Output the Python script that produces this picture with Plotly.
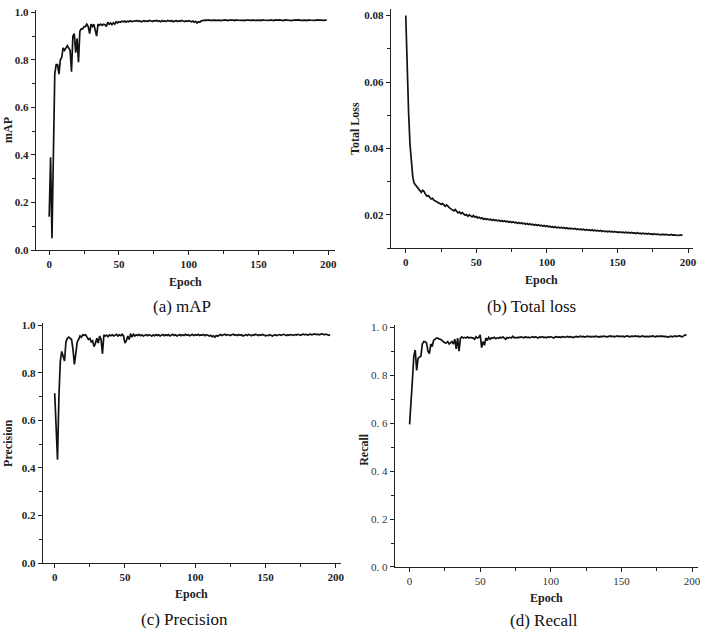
import plotly.graph_objects as go

# ---------------- data ----------------
map_vals = [
    0.14, 0.39, 0.05, 0.45, 0.74, 0.78, 0.78, 0.74, 0.80, 0.81,
    0.85, 0.84, 0.85, 0.86, 0.85, 0.84, 0.75, 0.90, 0.91, 0.83,
    0.89, 0.79, 0.92, 0.93, 0.93, 0.94, 0.94, 0.95, 0.94, 0.91,
    0.95, 0.94, 0.95, 0.93, 0.90, 0.95, 0.945, 0.95, 0.945, 0.95,
    0.948, 0.94, 0.958, 0.95, 0.955, 0.948, 0.956, 0.95, 0.96, 0.955,
    0.96, 0.958, 0.962, 0.96, 0.963, 0.958, 0.962, 0.96, 0.964, 0.961,
    0.962, 0.96, 0.963, 0.965, 0.962, 0.964, 0.96, 0.963, 0.965, 0.961,
    0.964, 0.962, 0.966, 0.963, 0.961, 0.965, 0.963, 0.966, 0.962, 0.964,
    0.96, 0.965, 0.962, 0.964, 0.961, 0.966, 0.963, 0.962, 0.965, 0.96,
    0.963, 0.965, 0.961, 0.964, 0.962, 0.966, 0.963, 0.961, 0.964, 0.962,
    0.965, 0.962, 0.96, 0.963, 0.958, 0.962, 0.955, 0.96, 0.958, 0.964,
    0.966, 0.965, 0.967, 0.966, 0.968, 0.966, 0.967, 0.965, 0.968, 0.967,
    0.966, 0.968, 0.967, 0.965, 0.967, 0.966, 0.968, 0.967, 0.965, 0.967,
    0.968, 0.966, 0.967, 0.965, 0.968, 0.967, 0.966, 0.968, 0.966, 0.967,
    0.965, 0.967, 0.968, 0.966, 0.967, 0.965, 0.968, 0.966, 0.967, 0.968,
    0.966, 0.967, 0.965, 0.968, 0.967, 0.966, 0.968, 0.967, 0.966, 0.968,
    0.967, 0.965, 0.968, 0.966, 0.967, 0.968, 0.966, 0.967, 0.965, 0.968,
    0.967, 0.966, 0.968, 0.967, 0.965, 0.967, 0.968, 0.966, 0.967, 0.968,
    0.966, 0.967, 0.968, 0.966, 0.967, 0.965, 0.968, 0.967, 0.966, 0.968,
    0.967, 0.966, 0.968, 0.967, 0.966, 0.968, 0.967, 0.966, 0.967, 0.967,
]

loss_vals = [
    0.080, 0.064, 0.051, 0.0413, 0.0354, 0.0313, 0.0295, 0.0290, 0.0282, 0.0278,
    0.0272, 0.0268, 0.0274, 0.0270, 0.0262, 0.0256, 0.0258, 0.0252, 0.0248, 0.0250,
    0.0244, 0.0242, 0.0240, 0.0237, 0.0236, 0.0232, 0.0234, 0.0229, 0.0226, 0.0230,
    0.0224, 0.0221, 0.0218, 0.0214, 0.0212, 0.0216, 0.0210, 0.0206, 0.0209, 0.0204,
    0.0207, 0.0202, 0.0199, 0.0201, 0.0196, 0.0200, 0.0197, 0.0194, 0.0198, 0.0193,
    0.0195, 0.0191, 0.0193, 0.0189, 0.0191, 0.0187, 0.0189, 0.0186, 0.0188, 0.0185,
    0.0187, 0.0184, 0.0186, 0.0183, 0.0185, 0.0182, 0.0184, 0.0181, 0.0183, 0.0180,
    0.0182, 0.0179, 0.0181, 0.0178, 0.0180, 0.0177, 0.0179, 0.0176, 0.0178, 0.0175,
    0.0177, 0.0174, 0.0176, 0.0173, 0.0175, 0.0172, 0.0174, 0.0171, 0.0173, 0.0170,
    0.0172, 0.0169, 0.0171, 0.0168, 0.0170, 0.0167, 0.0169, 0.0166, 0.0168, 0.0165,
    0.0167, 0.0164, 0.0166, 0.0163, 0.0165, 0.0162, 0.0164, 0.0161, 0.0163, 0.0161,
    0.0162, 0.0160, 0.0162, 0.0159, 0.0161, 0.0158, 0.0160, 0.0158, 0.0159, 0.0157,
    0.0159, 0.0156, 0.0158, 0.0156, 0.0157, 0.0155, 0.0157, 0.0154, 0.0156, 0.0154,
    0.0155, 0.0153, 0.0155, 0.0152, 0.0154, 0.0152, 0.0153, 0.0151, 0.0153, 0.0150,
    0.0152, 0.0150, 0.0151, 0.0149, 0.0151, 0.0149, 0.0150, 0.0148, 0.0150, 0.0148,
    0.0149, 0.0147, 0.0149, 0.0147, 0.0148, 0.0146, 0.0148, 0.0146, 0.0147, 0.0145,
    0.0147, 0.0145, 0.0146, 0.0144, 0.0146, 0.0144, 0.0145, 0.0143, 0.0145, 0.0143,
    0.0144, 0.0142, 0.0144, 0.0142, 0.0143, 0.0141, 0.0143, 0.0141, 0.0142, 0.0141,
    0.0142, 0.0140, 0.0142, 0.0140, 0.0141, 0.0140, 0.0141, 0.0139, 0.0141, 0.0139,
    0.0140, 0.0139, 0.0140, 0.0138, 0.0139, 0.0138, 0.0139,
]

precision_vals = [
    0.714, 0.58, 0.435, 0.70, 0.85, 0.89, 0.87, 0.85, 0.93, 0.945,
    0.95, 0.945, 0.94, 0.90, 0.835, 0.88, 0.93, 0.94, 0.955, 0.95,
    0.96, 0.958, 0.96, 0.95, 0.94, 0.945, 0.93, 0.935, 0.91, 0.925,
    0.945, 0.925, 0.955, 0.94, 0.88, 0.96, 0.955, 0.958, 0.952, 0.96,
    0.956, 0.96, 0.955, 0.958, 0.962, 0.955, 0.96, 0.956, 0.962, 0.955,
    0.925, 0.935, 0.955, 0.94, 0.965, 0.95, 0.962, 0.955, 0.96, 0.957,
    0.962, 0.956, 0.96, 0.955, 0.958, 0.96, 0.956, 0.96, 0.958, 0.955,
    0.959, 0.956, 0.961, 0.957, 0.96, 0.955, 0.958, 0.961, 0.956, 0.96,
    0.957, 0.961, 0.955, 0.959, 0.962, 0.957, 0.96, 0.955, 0.958, 0.961,
    0.956, 0.96, 0.957, 0.962, 0.958, 0.96, 0.956, 0.959, 0.961, 0.957,
    0.96, 0.958, 0.962, 0.957, 0.96, 0.959, 0.961, 0.956, 0.96, 0.958,
    0.955, 0.958, 0.952, 0.956, 0.95, 0.957, 0.954, 0.958, 0.961, 0.957,
    0.96, 0.962, 0.958, 0.961, 0.959, 0.957, 0.96, 0.962, 0.958, 0.96,
    0.957, 0.961, 0.958, 0.96, 0.955, 0.958, 0.96, 0.957, 0.961, 0.959,
    0.956, 0.96, 0.958, 0.962, 0.959, 0.957, 0.96, 0.958, 0.961, 0.959,
    0.956, 0.958, 0.957, 0.96, 0.958, 0.955, 0.958, 0.96, 0.957, 0.959,
    0.961, 0.958, 0.96, 0.962, 0.959, 0.957, 0.96, 0.958, 0.961, 0.96,
    0.958, 0.961, 0.959, 0.962, 0.96, 0.958, 0.961, 0.963, 0.96, 0.962,
    0.959, 0.961, 0.963, 0.96, 0.962, 0.964, 0.961, 0.963, 0.96, 0.962,
    0.964, 0.962, 0.96, 0.963, 0.961, 0.958, 0.96,
]

recall_vals = [
    0.595, 0.72, 0.78, 0.88, 0.905, 0.82, 0.87, 0.875, 0.88, 0.93,
    0.94, 0.94, 0.935, 0.90, 0.89, 0.93, 0.92, 0.945, 0.95, 0.955,
    0.955, 0.95, 0.95, 0.945, 0.94, 0.935, 0.935, 0.94, 0.93, 0.935,
    0.94, 0.93, 0.95, 0.91, 0.955, 0.90, 0.955, 0.96, 0.955, 0.958,
    0.955, 0.96, 0.955, 0.958, 0.957, 0.955, 0.95, 0.96, 0.955, 0.958,
    0.968, 0.915, 0.94, 0.925, 0.955, 0.945, 0.958, 0.95, 0.956, 0.955,
    0.958, 0.952, 0.956, 0.954, 0.958, 0.955, 0.96, 0.955, 0.95, 0.957,
    0.955, 0.958, 0.955, 0.962, 0.956, 0.958, 0.955, 0.959, 0.957, 0.96,
    0.958, 0.956, 0.96, 0.957, 0.959, 0.956, 0.958, 0.961, 0.957, 0.96,
    0.958, 0.955, 0.96, 0.958, 0.961, 0.957, 0.959, 0.956, 0.96, 0.958,
    0.961, 0.957, 0.955, 0.959, 0.961, 0.958, 0.96, 0.957, 0.961, 0.959,
    0.958, 0.96, 0.962, 0.958, 0.961, 0.959, 0.957, 0.96, 0.962, 0.959,
    0.961, 0.963, 0.96, 0.962, 0.959, 0.961, 0.963, 0.96, 0.962, 0.96,
    0.962, 0.96, 0.963, 0.961, 0.959, 0.962, 0.96, 0.963, 0.961, 0.962,
    0.96, 0.962, 0.964, 0.961, 0.963, 0.96, 0.962, 0.964, 0.961, 0.963,
    0.961, 0.963, 0.96, 0.962, 0.964, 0.962, 0.96, 0.963, 0.961, 0.962,
    0.964, 0.961, 0.963, 0.96, 0.962, 0.964, 0.961, 0.963, 0.962, 0.96,
    0.963, 0.961, 0.964, 0.962, 0.96, 0.963, 0.961, 0.962, 0.964, 0.961,
    0.963, 0.96, 0.962, 0.958, 0.961, 0.963, 0.96, 0.962, 0.964, 0.961,
    0.963, 0.965, 0.962, 0.96, 0.964, 0.968, 0.966,
]

x_ticks = [0, 50, 100, 150, 200]
unit_ticks = [0.0, 0.2, 0.4, 0.6, 0.8, 1.0]
unit_labels = ["0.0", "0.2", "0.4", "0.6", "0.8", "1.0"]
recall_labels = ["0. 0", "0. 2", "0. 4", "0. 6", "0. 8", "1. 0"]
loss_ticks = [0.02, 0.04, 0.06, 0.08]
loss_labels = ["0.02", "0.04", "0.06", "0.08"]

panel_titles = ["mAP", "Total Loss", "Precision", "Recall"]
captions = ["(a) mAP", "(b) Total loss", "(c) Precision", "(d) Recall"]

# ---------------- layout geometry (pixels) ----------------
W, H = 709, 635
SERIF = "Liberation Serif"


def px_x(p):
    return p / W


def px_y(p):
    return 1 - p / H


panels = [
    dict(xd=(36, 337), yd=(6, 250), xr=[-9.6, 205], yr=[0, 1.01]),
    dict(xd=(393, 697), yd=(5, 248), xr=[-10.6, 203.5], yr=[0.01, 0.082]),
    dict(xd=(43, 343), yd=(324, 568), xr=[-8.5, 203.8], yr=[0, 1.01]),
    dict(xd=(397, 702), yd=(326, 572), xr=[-10.5, 204.2], yr=[0, 1.01]),
]

series = [map_vals, loss_vals, precision_vals, recall_vals]

fig = go.Figure()
layout = dict(
    width=W, height=H,
    margin=dict(l=0, r=0, t=0, b=0),
    paper_bgcolor="white", plot_bgcolor="white",
    showlegend=False,
)

annotations = []

for i, (p, vals) in enumerate(zip(panels, series)):
    n = i + 1
    xa = "xaxis" if n == 1 else f"xaxis{n}"
    ya = "yaxis" if n == 1 else f"yaxis{n}"
    xref = "x" if n == 1 else f"x{n}"
    yref = "y" if n == 1 else f"y{n}"
    epochs = list(range(len(vals)))
    fig.add_trace(go.Scatter(x=epochs, y=vals, mode="lines",
                             line=dict(color="#111111", width=1.7),
                             xaxis=xref, yaxis=yref, hoverinfo="skip"))
    is_recall = (i == 3)
    tickfont = (dict(family=SERIF, size=11, color="#333333") if is_recall
                else dict(family=SERIF, size=11, color="#222222", weight="bold"))
    layout[xa] = dict(
        domain=[px_x(p["xd"][0]), px_x(p["xd"][1])],
        range=p["xr"], anchor=yref,
        showgrid=False, zeroline=False,
        showline=True, linecolor="#222222", linewidth=1.3,
        ticks="outside", ticklen=4, tickwidth=1.2, tickcolor="#222222",
        tickmode="array", tickvals=x_ticks,
        ticktext=[str(t) for t in x_ticks],
        tickfont=tickfont,
        minor=dict(ticks="outside", ticklen=2.5, tickwidth=1, tickcolor="#222222",
                   tickmode="linear", tick0=25, dtick=50),
        fixedrange=True,
    )
    if i == 1:
        yt, ytt, minor_d, minor0 = loss_ticks, loss_labels, 0.02, 0.01
    elif is_recall:
        yt, ytt, minor_d, minor0 = unit_ticks, recall_labels, 0.2, 0.1
    else:
        yt, ytt, minor_d, minor0 = unit_ticks, unit_labels, 0.2, 0.1
    layout[ya] = dict(
        domain=[px_y(p["yd"][1]), px_y(p["yd"][0])],
        range=p["yr"], anchor=xref,
        showgrid=False, zeroline=False,
        showline=True, linecolor="#222222", linewidth=1.3,
        ticks="outside", ticklen=4, tickwidth=1.2, tickcolor="#222222",
        tickmode="array", tickvals=yt, ticktext=ytt,
        tickfont=tickfont,
        minor=dict(ticks="outside", ticklen=2.5, tickwidth=1, tickcolor="#222222",
                   tickmode="linear", tick0=minor0, dtick=minor_d),
        fixedrange=True,
    )

    cx = (p["xd"][0] + p["xd"][1]) / 2
    epoch_y = p["yd"][1] + 32 if i < 2 else p["yd"][1] + 31
    annotations.append(dict(
        text="Epoch", x=px_x(cx), y=px_y(epoch_y), xref="paper", yref="paper",
        showarrow=False, xanchor="center", yanchor="middle",
        font=dict(family=SERIF, size=12, color="#222222", weight="bold")))

# y-axis titles
ytitle_pos = [(8, 128), (357, 126), (8, 446), (366, 452)]
for (tx, ty), t in zip(ytitle_pos, panel_titles):
    annotations.append(dict(
        text=t, x=px_x(tx), y=px_y(ty), xref="paper", yref="paper",
        showarrow=False, xanchor="center", yanchor="middle", textangle=-90,
        font=dict(family=SERIF, size=12, color="#222222", weight="bold")))

# captions
cap_pos = [(183, 307), (535, 307), (186, 625), (547, 626)]
for (cx, cy), t in zip(cap_pos, captions):
    annotations.append(dict(
        text=t, x=px_x(cx), y=px_y(cy), xref="paper", yref="paper",
        showarrow=False, xanchor="center", yanchor="middle",
        font=dict(family=SERIF, size=17, color="#111111")))

layout["annotations"] = annotations
fig.update_layout(**layout)
fig.write_html("out.html")
